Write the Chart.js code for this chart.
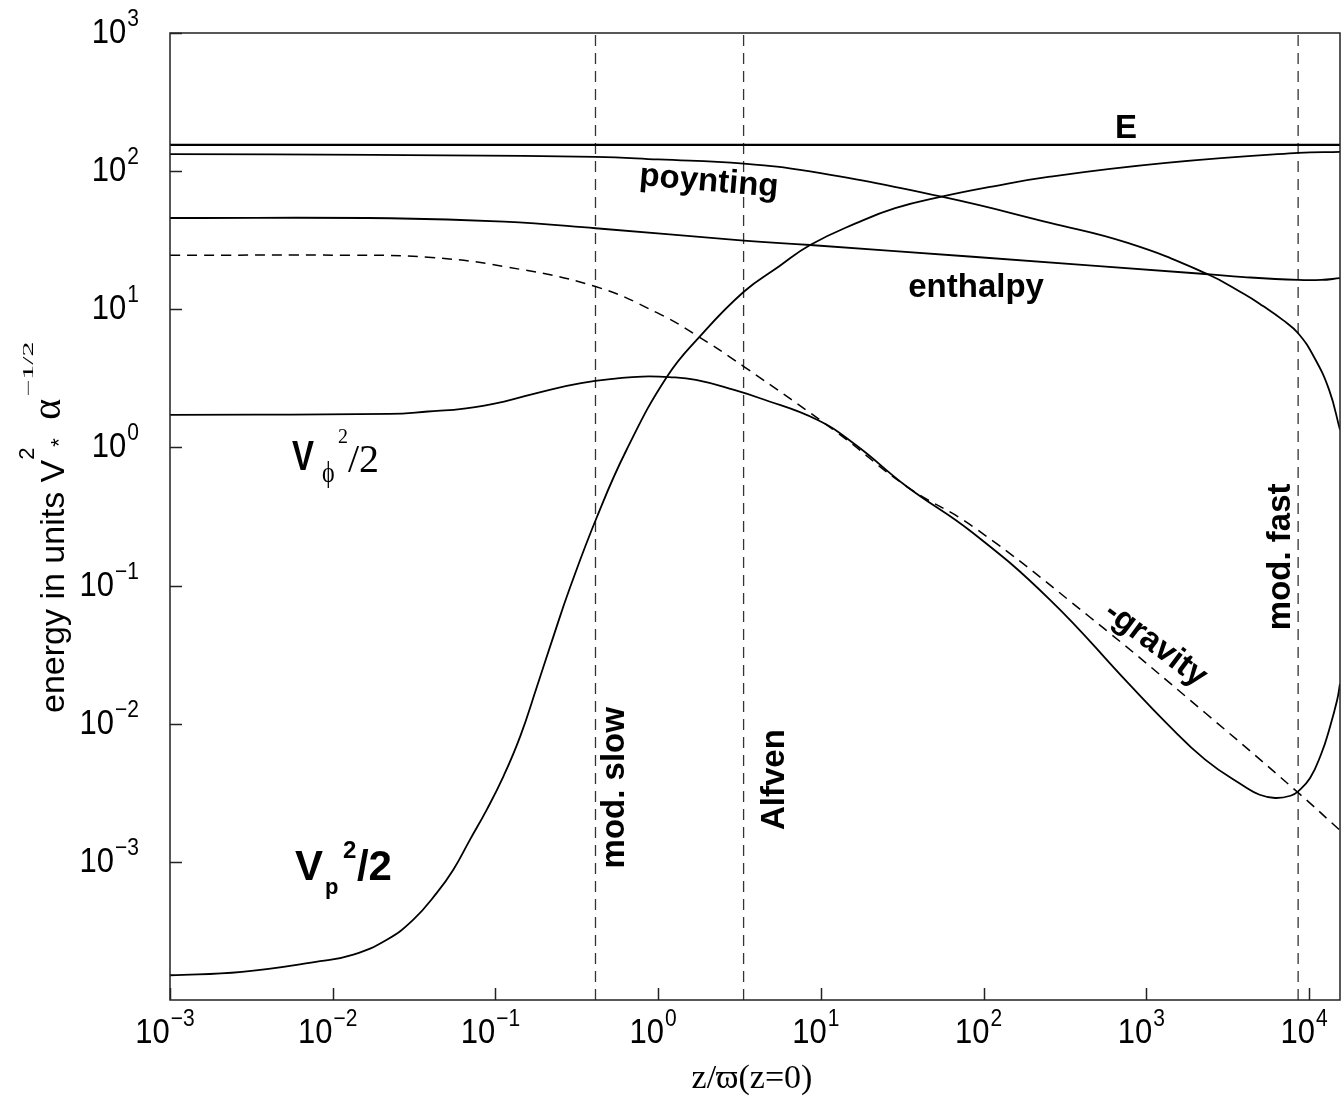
<!DOCTYPE html>
<html>
<head>
<meta charset="utf-8">
<title>energy along the field line</title>
<script src="https://cdn.jsdelivr.net/npm/chart.js@4.4.0/dist/chart.umd.min.js"></script>
<style>
  html, body { margin: 0; padding: 0; background: #fff; }
  canvas { display: block; }
</style>
</head>
<body>
<canvas id="energyChart" width="1344" height="1098"></canvas>
<script>
// data (z / varpi, energy)
const zTotal = [0.001, 15500];
const totalE = [155, 155];

const zPoynting = [0.001, 0.0179, 0.412, 1.0, 3.35, 8.59, 55.2, 256, 769, 2300, 3990, 5250, 6890, 8570, 10690, 13290, 15500];
const poynting = [133, 131, 127, 121.6, 113.5, 99.5, 65.3, 42.2, 30.2, 18.3, 12.9, 10.5, 8.38, 6.71, 4.55, 2.61, 1.34];

const zEnthalpy = [0.001, 0.0225, 0.113, 0.412, 3.36, 8.59, 85.7, 2296, 3990, 8570, 11870, 15500];
const enthalpy = [45.8, 45.6, 43.1, 38.6, 31.4, 29.2, 24.0, 18.0, 17.1, 16.3, 16.3, 16.8];

const zGravity = [0.001, 0.0129, 0.0385, 0.113, 0.412, 0.99, 1.70, 3.36, 12.6, 33.7, 85.7, 445, 2296, 8570, 15500];
const gravity = [24.6, 24.6, 23.8, 20.4, 14.6, 9.41, 6.53, 3.85, 1.28, 0.521, 0.268, 0.0597, 0.0120, 0.00317, 0.00169];

const zVphi = [0.001, 0.0224, 0.0385, 0.066, 0.113, 0.195, 0.336, 0.577, 0.798, 1.167, 1.706, 2.93, 4.23, 9.55, 16.4, 33.7, 85.7, 256, 769, 1330, 2300, 3990, 4970, 6190, 7700, 8570, 10150, 11940, 13300, 14900, 15500];
const vPhi = [1.72, 1.75, 1.82, 1.92, 2.15, 2.54, 2.92, 3.17, 3.26, 3.23, 3.08, 2.61, 2.27, 1.58, 1.04, 0.521, 0.241, 0.0789, 0.0198, 0.0101, 0.0055, 0.00352, 0.00306, 0.00290, 0.00301, 0.00324, 0.00404, 0.00614, 0.00906, 0.0149, 0.0195];

const zVp = [0.001, 0.00277, 0.00836, 0.0134, 0.0215, 0.0313, 0.0436, 0.0551, 0.0698, 0.0885, 0.112, 0.142, 0.180, 0.227, 0.287, 0.421, 0.640, 1.135, 1.80, 3.36, 5.52, 8.59, 16.5, 28.6, 55.2, 112.7, 256, 1324, 8570, 15500];
const vP = [1.51e-4, 1.60e-4, 1.91e-4, 2.13e-4, 2.73e-4, 3.82e-4, 5.96e-4, 8.78e-4, 1.45e-3, 2.39e-3, 4.16e-3, 8.10e-3, 0.0186, 0.0427, 0.0964, 0.315, 0.962, 3.26, 6.34, 13.4, 20.4, 29.2, 42.0, 53.9, 65.3, 77.3, 91.2, 114.6, 135.5, 138];

// critical points: mod. slow, Alfven, mod. fast
const criticalZ = [0.412, 3.35, 8570];
const criticalNames = ['mod. slow', 'Alfven', 'mod. fast'];

const xTickExp = [-3, -2, -1, 0, 1, 2, 3, 4];
const yTickExp = [-3, -2, -1, 0, 1, 2, 3];

const X_MIN = 1e-3, X_MAX = 15500, Y_MIN = 1e-4, Y_MAX = 1e3;

function pairs(xs, ys) {
    return xs.map((x, i) => ({ x: x, y: ys[i] }));
}

const SANS = '"Liberation Sans", Arial, Helvetica, sans-serif';
const SERIF = '"Liberation Serif", "DejaVu Serif", "Times New Roman", serif';

// text labels placed in data coordinates
const curveLabels = [
    { text: 'E', z: 751, v: 174, angle: 0 },
    { text: 'poynting', z: 2.03, v: 71.9, angle: 4.8 },
    { text: 'enthalpy', z: 89.9, v: 12.3, angle: 0 },
    { text: '-gravity', z: 1054, v: 0.0332, angle: 37 }
];
const criticalLabelPos = [
    { z: 0.617, v: 0.00344 },
    { z: 5.94, v: 0.00394 },
    { z: 7660, v: 0.1614 }
];

function piece(ctx, text, x, y, font, sx, sy, align) {
    ctx.save();
    ctx.translate(x, y);
    ctx.scale(sx || 1, sy || 1);
    ctx.font = font;
    ctx.textAlign = align || 'left';
    ctx.textBaseline = 'alphabetic';
    ctx.fillText(text, 0, 0);
    ctx.restore();
}

function drawPower(ctx, exponent, x, baseline, align) {
    const base = '10';
    const sup = exponent < 0 ? '\u2212' + (-exponent) : String(exponent);
    const baseFont = '31px ' + SANS;
    const supFont = '21px ' + SANS;
    ctx.font = baseFont;
    const wb = ctx.measureText(base).width;
    ctx.font = supFont;
    const ws = ctx.measureText(sup).width;
    const total = wb + 1 + ws;
    const left = align === 'right' ? x - total : x - total / 2;
    piece(ctx, base, left, baseline, baseFont, 1, 1.12);
    piece(ctx, sup, left + wb + 1, baseline - 17, supFont, 1, 1.1);
}

const decorations = {
    id: 'decorations',
    afterDraw(chart) {
        const ctx = chart.ctx;
        const area = chart.chartArea;
        const xs = chart.scales.x;
        const ys = chart.scales.y;
        ctx.save();
        ctx.fillStyle = '#000';
        ctx.strokeStyle = '#222';
        ctx.lineWidth = 1.5;

        // frame
        ctx.strokeRect(area.left, area.top, area.right - area.left, area.bottom - area.top);

        // ticks pointing inwards
        ctx.beginPath();
        xTickExp.forEach(k => {
            const px = Math.round(xs.getPixelForValue(Math.pow(10, k))) + 0.5;
            ctx.moveTo(px, area.bottom);
            ctx.lineTo(px, area.bottom - 12);
        });
        yTickExp.forEach(k => {
            const py = Math.round(ys.getPixelForValue(Math.pow(10, k))) + 0.5;
            ctx.moveTo(area.left, py);
            ctx.lineTo(area.left + 12, py);
        });
        ctx.stroke();

        // tick labels
        xTickExp.forEach(k => {
            drawPower(ctx, k, xs.getPixelForValue(Math.pow(10, k)) - 5, area.bottom + 43, 'center');
        });
        yTickExp.forEach(k => {
            drawPower(ctx, k, area.left - 31, ys.getPixelForValue(Math.pow(10, k)) + 10, 'right');
        });

        // x title
        piece(ctx, 'z/\u03D6(z=0)', (area.left + area.right) / 2 - 3, area.bottom + 88, '34px ' + SERIF, 1, 1, 'center');

        // y title, rotated
        ctx.save();
        ctx.translate(area.left - 106, area.bottom - 287);
        ctx.rotate(-Math.PI / 2);
        const yFont = '34px ' + SANS;
        ctx.font = yFont;
        const w1 = ctx.measureText('energy in units V').width;
        piece(ctx, 'energy in units V', 0, 0, yFont);
        piece(ctx, '2', w1, -30, '22px ' + SANS);
        piece(ctx, '*', w1 + 13, 2, '22px ' + SANS);
        piece(ctx, '\u03B1', w1 + 40, -4, '40px ' + SERIF);
        piece(ctx, '\u22121/2', w1 + 63, -31, '15px ' + SERIF, 2, 1);
        ctx.restore();

        // curve labels
        const bold = '700 33px ' + SANS;
        curveLabels.forEach(l => {
            ctx.save();
            ctx.translate(xs.getPixelForValue(l.z), ys.getPixelForValue(l.v));
            ctx.rotate(l.angle * Math.PI / 180);
            piece(ctx, l.text, 0, 0, bold, 1, 1, 'center');
            ctx.restore();
        });
        criticalNames.forEach((name, i) => {
            const p = criticalLabelPos[i];
            ctx.save();
            ctx.translate(xs.getPixelForValue(p.z), ys.getPixelForValue(p.v));
            ctx.rotate(-Math.PI / 2);
            piece(ctx, name, 0, 0, bold, 1, 1, 'center');
            ctx.restore();
        });

        // V_phi^2/2
        let ax = xs.getPixelForValue(0.00562), ay = ys.getPixelForValue(0.689);
        piece(ctx, 'V', ax, ay, '700 33px ' + SANS, 1, 1.28);
        piece(ctx, '\u03D5', ax + 30, ay + 12, '24px ' + SERIF, 1, 1.2);
        piece(ctx, '2', ax + 46, ay - 27, '20px ' + SERIF, 1, 1.1);
        piece(ctx, '/2', ax + 56, ay + 2, '40px ' + SERIF);

        // V_p^2/2
        ax = xs.getPixelForValue(0.00586); ay = ys.getPixelForValue(7.43e-4);
        piece(ctx, 'V', ax, ay, '700 42px ' + SANS);
        piece(ctx, 'p', ax + 30, ay + 14, '700 22px ' + SANS);
        piece(ctx, '2', ax + 48, ay - 22, '700 24px ' + SANS);
        piece(ctx, '/2', ax + 62, ay, '700 42px ' + SANS);

        ctx.restore();
    }
};

const solid = { borderColor: '#000', borderWidth: 1.8, pointRadius: 0, fill: false, tension: 0.45 };

const datasets = [
    Object.assign({ label: 'E', data: pairs(zTotal, totalE) }, solid, { borderWidth: 2.2, tension: 0 }),
    Object.assign({ label: 'poynting', data: pairs(zPoynting, poynting) }, solid),
    Object.assign({ label: 'enthalpy', data: pairs(zEnthalpy, enthalpy) }, solid),
    Object.assign({ label: '-gravity', data: pairs(zGravity, gravity) }, solid, { borderDash: [10, 7], borderWidth: 1.5 }),
    Object.assign({ label: 'Vphi^2/2', data: pairs(zVphi, vPhi) }, solid),
    Object.assign({ label: 'Vp^2/2', data: pairs(zVp, vP) }, solid)
];
criticalZ.forEach((z, i) => {
    datasets.push({
        label: criticalNames[i],
        data: [{ x: z, y: Y_MIN }, { x: z, y: Y_MAX }],
        borderColor: '#333',
        borderWidth: 1.3,
        borderDash: [11, 7],
        pointRadius: 0,
        fill: false
    });
});

new Chart(document.getElementById('energyChart').getContext('2d'), {
    type: 'line',
    data: { datasets: datasets },
    options: {
        responsive: false,
        animation: false,
        layout: { padding: { left: 170, right: 4, top: 33, bottom: 98 } },
        plugins: {
            legend: { display: false },
            tooltip: { enabled: false }
        },
        scales: {
            x: { type: 'logarithmic', min: X_MIN, max: X_MAX, display: false },
            y: { type: 'logarithmic', min: Y_MIN, max: Y_MAX, display: false }
        }
    },
    plugins: [decorations]
});
</script>
</body>
</html>
